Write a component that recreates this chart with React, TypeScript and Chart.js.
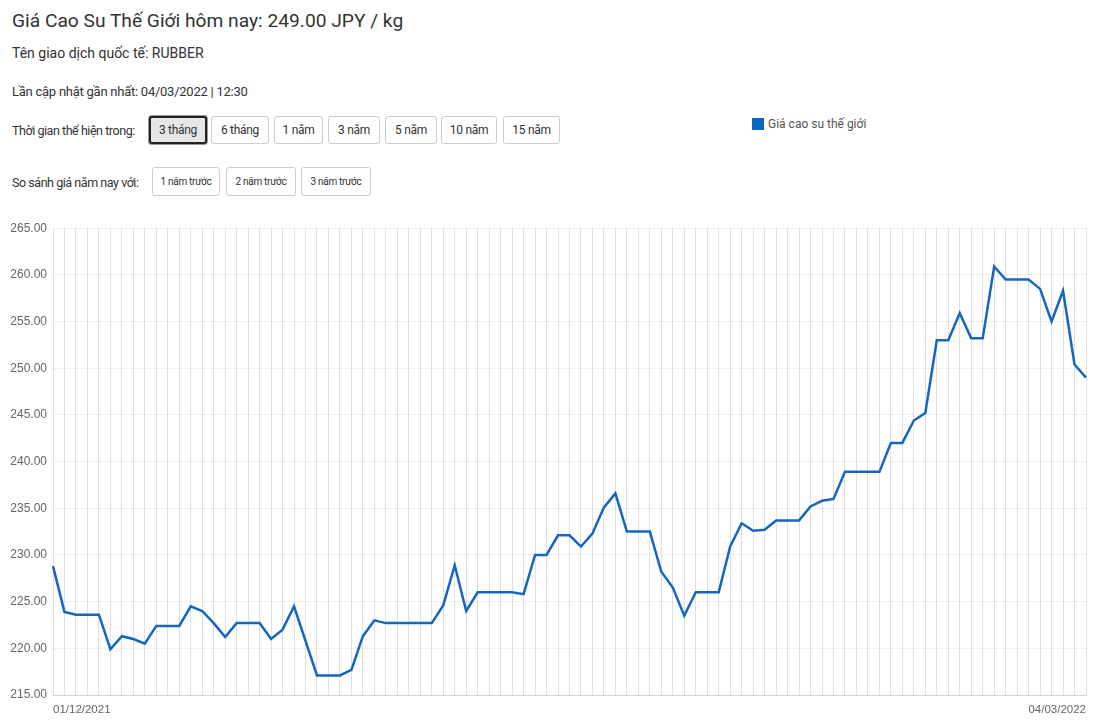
import React, { useEffect, useRef } from "react";
import { Chart, registerables } from "chart.js";

Chart.register(...registerables);

const TITLE = "Giá Cao Su Thế Giới hôm nay: 249.00 JPY / kg";
const SERIES_NAME = "Giá cao su thế giới";

const dateLabels: string[] = [
  "01/12/2021", "02/12/2021", "03/12/2021", "06/12/2021", "07/12/2021", "08/12/2021", "09/12/2021",
  "10/12/2021", "13/12/2021", "14/12/2021", "15/12/2021", "16/12/2021", "17/12/2021", "20/12/2021",
  "21/12/2021", "22/12/2021", "23/12/2021", "24/12/2021", "27/12/2021", "28/12/2021", "29/12/2021",
  "30/12/2021", "31/12/2021", "03/01/2022", "04/01/2022", "05/01/2022", "06/01/2022", "07/01/2022",
  "10/01/2022", "11/01/2022", "12/01/2022", "13/01/2022", "14/01/2022", "17/01/2022", "18/01/2022",
  "19/01/2022", "20/01/2022", "21/01/2022", "24/01/2022", "25/01/2022", "26/01/2022", "27/01/2022",
  "28/01/2022", "31/01/2022", "01/02/2022", "02/02/2022", "03/02/2022", "04/02/2022", "05/02/2022",
  "06/02/2022", "07/02/2022", "08/02/2022", "09/02/2022", "10/02/2022", "11/02/2022", "12/02/2022",
  "13/02/2022", "14/02/2022", "15/02/2022", "16/02/2022", "17/02/2022", "18/02/2022", "19/02/2022",
  "20/02/2022", "21/02/2022", "22/02/2022", "23/02/2022", "24/02/2022", "25/02/2022", "26/02/2022",
  "27/02/2022", "28/02/2022", "01/03/2022", "02/03/2022", "03/03/2022", "04/03/2022", "05/03/2022",
  "06/03/2022", "07/03/2022", "08/03/2022", "09/03/2022", "10/03/2022", "11/03/2022", "12/03/2022",
  "13/03/2022", "14/03/2022", "15/03/2022", "16/03/2022", "17/03/2022", "18/03/2022", "04/03/2022",
];

const prices: number[] = [
  228.8, 223.9, 223.6, 223.6, 223.6, 219.9, 221.3, 221.0, 220.5, 222.4,
  222.4, 222.4, 224.5, 224.0, 222.7, 221.2, 222.7, 222.7, 222.7, 221.0,
  222.0, 224.5, 220.8, 217.1, 217.1, 217.1, 217.7, 221.3, 223.0, 222.7,
  222.7, 222.7, 222.7, 222.7, 224.6, 228.9, 224.0, 226.0, 226.0, 226.0,
  226.0, 225.8, 230.0, 230.0, 232.1, 232.1, 230.9, 232.3, 235.1, 236.6,
  232.5, 232.5, 232.5, 228.2, 226.5, 223.5, 226.0, 226.0, 226.0, 230.9,
  233.4, 232.6, 232.7, 233.7, 233.7, 233.7, 235.2, 235.8, 236.0, 238.9,
  238.9, 238.9, 238.9, 242.0, 242.0, 244.4, 245.2, 253.0, 253.0, 255.9,
  253.2, 253.2, 260.9, 259.5, 259.5, 259.5, 258.5, 255.0, 258.3, 250.4,
  249.0,
];

const Y_MIN = 215;
const Y_MAX = 265;
const Y_STEP = 5;

const periodButtons: string[] = ["3 tháng", "6 tháng", "1 năm", "3 năm", "5 năm", "10 năm", "15 năm"];
const periodLefts: number[] = [149, 211, 274, 328, 385, 441, 503];
const periodWidths: number[] = [58, 58, 49, 52, 52, 56, 57];
const compareButtons: string[] = ["1 năm trước", "2 năm trước", "3 năm trước"];
const compareLefts: number[] = [152, 226, 301];
const compareWidths: number[] = [68, 70, 70];

const FONT = "Roboto, 'Liberation Sans', Arial, sans-serif";
const LINE_COLOR = "#1666c0";

export default function App() {
  const canvasRef = useRef<HTMLCanvasElement | null>(null);

  useEffect(() => {
    if (!canvasRef.current) return;
    const last = dateLabels.length - 1;
    const chart = new Chart(canvasRef.current, {
      type: "line",
      data: {
        labels: dateLabels,
        datasets: [
          {
            label: SERIES_NAME,
            data: prices,
            borderColor: LINE_COLOR,
            backgroundColor: LINE_COLOR,
            borderWidth: 2.5,
            pointRadius: 0,
            tension: 0,
            fill: false,
          },
        ],
      },
      options: {
        animation: false,
        responsive: false,
        maintainAspectRatio: false,
        layout: { padding: { top: 12, right: 18, left: 0, bottom: 0 } },
        plugins: { legend: { display: false }, tooltip: { enabled: false } },
        scales: {
          x: {
            type: "category",
            grid: { color: "rgba(0,0,0,0.12)", drawTicks: false, lineWidth: 1 },
            border: { color: "rgba(0,0,0,0.12)" },
            afterFit: (s: any) => { s.height = 25; },
            ticks: {
              autoSkip: false,
              maxRotation: 0,
              minRotation: 0,
              align: "inner",
              padding: 8,
              color: "#666",
              font: { family: "'Liberation Sans', Arial, sans-serif", size: 11.5 },
              callback: (_v: any, i: number) => (i === 0 || i === last ? dateLabels[i] : ""),
            },
          },
          y: {
            min: Y_MIN,
            max: Y_MAX,
            grid: { color: "rgba(0,0,0,0.06)", drawTicks: false },
            border: { display: false },
            afterFit: (s: any) => { s.width = 53; },
            ticks: {
              stepSize: Y_STEP,
              padding: 6,
              color: "#666",
              font: { family: "'Liberation Sans', Arial, sans-serif", size: 12 },
              callback: (v: any) => Number(v).toFixed(2),
            },
          },
        },
      },
    });
    return () => chart.destroy();
  }, []);

  const btn = (left: number, top: number, w: number, h: number, active: boolean, fs: number): React.CSSProperties => ({
    position: "absolute",
    left,
    top,
    width: w,
    height: h,
    boxSizing: "border-box",
    border: active ? "2px solid #222" : "1px solid #ccc",
    boxShadow: active ? "0 0 0 1px #999" : "none",
    borderRadius: 3,
    background: active ? "#e6e6e6" : "#fff",
    color: "#333",
    fontFamily: FONT,
    fontSize: fs,
    letterSpacing: -0.3,
    display: "flex",
    alignItems: "center",
    justifyContent: "center",
    whiteSpace: "nowrap",
  });

  const txt = (left: number, top: number, fs: number, ls: number = 0): React.CSSProperties => ({
    position: "absolute",
    left,
    top,
    fontFamily: FONT,
    fontSize: fs,
    letterSpacing: ls,
    color: "#333",
    whiteSpace: "nowrap",
    lineHeight: 1,
  });

  return (
    <div style={{ position: "absolute", left: 0, top: 0, width: 1104, height: 725, background: "#fff", overflow: "hidden" }}>
      <div style={txt(12, 11, 19.2)}>{TITLE}</div>
      <div style={txt(12, 46, 14)}>Tên giao dịch quốc tế: RUBBER</div>
      <div style={txt(12, 85, 13, -0.25)}>Lần cập nhật gần nhất: 04/03/2022 | 12:30</div>
      <div style={txt(12, 125, 12.5, -0.45)}>Thời gian thể hiện trong:</div>
      {periodButtons.map((b, i) => (
        <div key={b} style={btn(periodLefts[i], 116, periodWidths[i], 28, i === 0, 12)}>{b}</div>
      ))}
      <div style={{ position: "absolute", left: 752, top: 118, width: 12, height: 12, background: "#0a66c6" }} />
      <div style={{ ...txt(768, 118, 12), color: "#555" }}>{SERIES_NAME}</div>
      <div style={txt(12, 177, 12.5, -0.45)}>So sánh giá năm nay với:</div>
      {compareButtons.map((b, i) => (
        <div key={b} style={btn(compareLefts[i], 167, compareWidths[i], 29, false, 10)}>{b}</div>
      ))}
      <canvas
        ref={canvasRef}
        width={1104}
        height={505}
        style={{ position: "absolute", left: 0, top: 215, width: 1104, height: 505 }}
      />
    </div>
  );
}
